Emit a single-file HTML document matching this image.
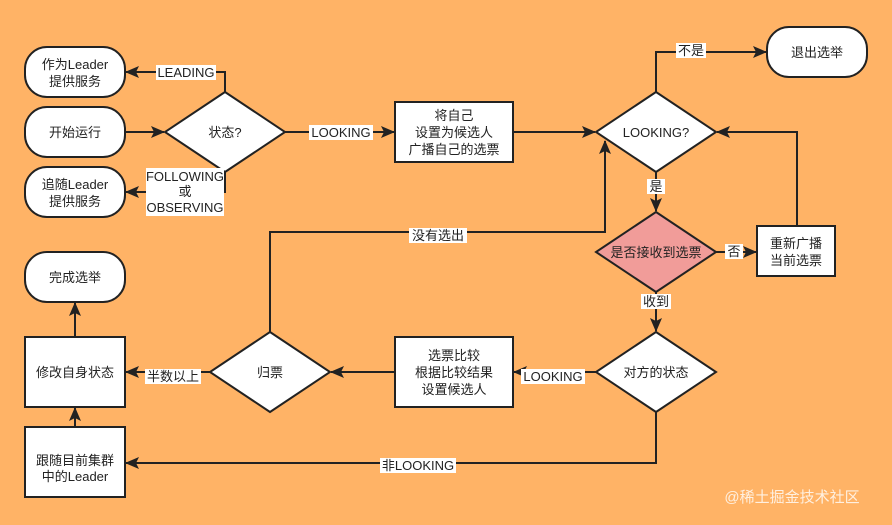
<!DOCTYPE html>
<html><head><meta charset="utf-8"><style>
body{margin:0;background:#FFB366;}
svg{display:block;font-family:"Liberation Sans","Noto Sans CJK SC",sans-serif;}
</style></head><body>
<svg width="892" height="525" viewBox="0 0 892 525" xmlns="http://www.w3.org/2000/svg">
<defs><marker id="a" markerWidth="14" markerHeight="12" refX="13" refY="6" orient="auto" markerUnits="userSpaceOnUse"><path d="M0,0 L14,6 L0,12 L3,6 Z" fill="#222"/></marker></defs>
<rect width="892" height="525" fill="#FFB366"/>
<g fill="#fff" stroke="#222" stroke-width="2">
<rect x="25" y="47" width="100" height="50" rx="22"/>
<rect x="25" y="107" width="100" height="50" rx="22"/>
<rect x="25" y="167" width="100" height="50" rx="22"/>
<rect x="767" y="27" width="100" height="50" rx="22"/>
<rect x="25" y="252" width="100" height="50" rx="22"/>
<rect x="395" y="102" width="118" height="60"/>
<rect x="757" y="226" width="78" height="50"/>
<rect x="395" y="337" width="118" height="70"/>
<rect x="25" y="337" width="100" height="70"/>
<rect x="25" y="427" width="100" height="70"/>
<polygon points="225,92 285,132 225,172 165,132"/>
<polygon points="656,92 716,132 656,172 596,132"/>
<polygon points="656,212 716,252 656,292 596,252" fill="#F19C99"/>
<polygon points="656,332 716,372 656,412 596,372"/>
<polygon points="270,332 330,372 270,412 210,372"/>
</g>
<g fill="none" stroke="#222" stroke-width="2" marker-end="url(#a)">
<path d="M225,92 V72 H126"/>
<path d="M125,132 H164"/>
<path d="M225,172 V192 H126"/>
<path d="M285,132 H394"/>
<path d="M513,132 H595"/>
<path d="M656,92 V52 H766"/>
<path d="M656,172 V211"/>
<path d="M716,252 H756"/>
<path d="M797,226 V132 H717"/>
<path d="M656,292 V331"/>
<path d="M596,372 H514"/>
<path d="M395,372 H331"/>
<path d="M210,372 H126"/>
<path d="M75,337 V303"/>
<path d="M75,427 V408"/>
<path d="M656,412 V463 H126"/>
<path d="M270,332 V232 H605 V141"/>
</g>
<g font-size="13" text-anchor="middle" fill="#222">
<rect x="156" y="65" width="60" height="15" fill="#fff"/><text x="186" y="77">LEADING</text>
<rect x="146" y="168" width="78" height="48" fill="#fff"/>
<text x="185" y="181">FOLLOWING</text><text x="185" y="196">或</text><text x="185" y="212">OBSERVING</text>
<rect x="309" y="125" width="64" height="15" fill="#fff"/><text x="341" y="137">LOOKING</text>
<rect x="676" y="43" width="30" height="15" fill="#fff"/><text x="691" y="55">不是</text>
<rect x="647" y="179" width="18" height="15" fill="#fff"/><text x="656" y="191">是</text>
<rect x="725" y="244" width="18" height="15" fill="#fff"/><text x="734" y="256">否</text>
<rect x="641" y="294" width="30" height="15" fill="#fff"/><text x="656" y="306">收到</text>
<rect x="521" y="369" width="64" height="15" fill="#fff"/><text x="553" y="381">LOOKING</text>
<rect x="145" y="369" width="56" height="15" fill="#fff"/><text x="173" y="381">半数以上</text>
<rect x="380" y="458" width="76" height="15" fill="#fff"/><text x="418" y="470">非LOOKING</text>
<rect x="409" y="228" width="58" height="15" fill="#fff"/><text x="438" y="240">没有选出</text>
<text x="75" y="69">作为Leader</text><text x="75" y="86">提供服务</text>
<text x="75" y="137">开始运行</text>
<text x="75" y="189">追随Leader</text><text x="75" y="206">提供服务</text>
<text x="225" y="137">状态?</text>
<text x="454" y="120">将自己</text><text x="454" y="137">设置为候选人</text><text x="454" y="154">广播自己的选票</text>
<text x="656" y="137">LOOKING?</text>
<text x="817" y="57">退出选举</text>
<text x="656" y="257">是否接收到选票</text>
<text x="796" y="248">重新广播</text><text x="796" y="265">当前选票</text>
<text x="656" y="377">对方的状态</text>
<text x="454" y="360">选票比较</text><text x="454" y="377">根据比较结果</text><text x="454" y="394">设置候选人</text>
<text x="270" y="377">归票</text>
<text x="75" y="377">修改自身状态</text>
<text x="75" y="282">完成选举</text>
<text x="75" y="465">跟随目前集群</text><text x="75" y="481">中的Leader</text>
</g>
<text x="792" y="502" font-size="15" text-anchor="middle" fill="#fff" fill-opacity="0.8">@稀土掘金技术社区</text>
</svg>
</body></html>
